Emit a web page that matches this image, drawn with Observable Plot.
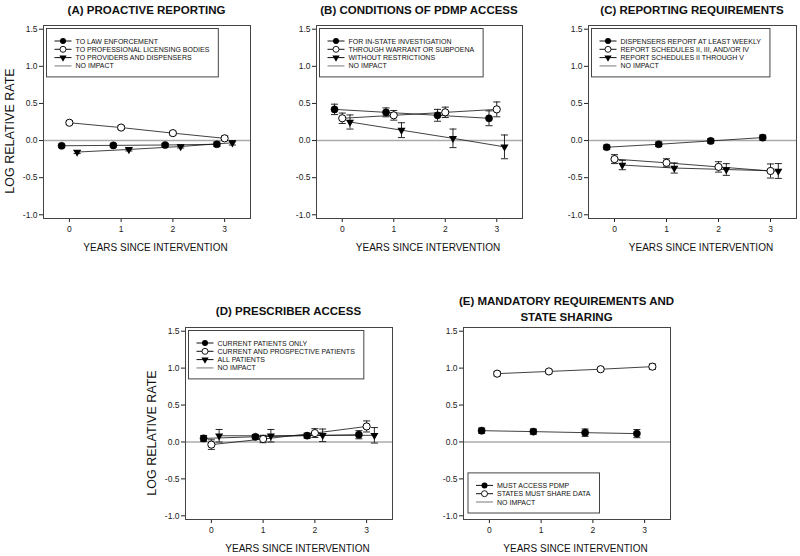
<!DOCTYPE html>
<html><head><meta charset="utf-8">
<script src="https://cdn.jsdelivr.net/npm/d3@7"></script>
<script src="https://cdn.jsdelivr.net/npm/@observablehq/plot@0.6"></script>
<style>
html,body{margin:0;padding:0;background:#fff;overflow:hidden;}
#fig{position:relative;width:800px;height:556px;overflow:hidden;font-family:"Liberation Sans",Arial,sans-serif;color:#111;background:#fff;}
.abs{position:absolute;white-space:nowrap;transform:translate(-50%,-50%);z-index:2;}
.title{font-weight:bold;font-size:11.5px;text-align:center;line-height:16px;}
.xlab{font-size:10px;}
.ylab{font-size:12.5px;transform:translate(-50%,-50%) rotate(-90deg);}
</style></head><body><div id="fig"></div>
<script>
// ---------- data ----------
const years = [0, 1, 2, 3];
const yTicks = [-1.0, -0.5, 0.0, 0.5, 1.0, 1.5];
const noImpactLabel = "NO IMPACT";

// (A) Proactive reporting
const aTitle = ["(A) PROACTIVE REPORTING"];
const aLabels = ["TO LAW ENFORCEMENT", "TO PROFESSIONAL LICENSING BODIES", "TO PROVIDERS AND DISPENSERS"];
const aLaw = [-0.07, -0.065, -0.06, -0.05];
const aLawErr = [0.02, 0.02, 0.02, 0.03];
const aProf = [0.24, 0.175, 0.10, 0.03];
const aProfErr = [0.025, 0.025, 0.025, 0.03];
const aProv = [-0.155, -0.12, -0.08, -0.03];
const aProvErr = [0.02, 0.02, 0.02, 0.03];

// (B) Conditions of PDMP access
const bTitle = ["(B) CONDITIONS OF PDMP ACCESS"];
const bLabels = ["FOR IN-STATE INVESTIGATION", "THROUGH WARRANT OR SUBPOENA", "WITHOUT RESTRICTIONS"];
const bInState = [0.42, 0.38, 0.34, 0.30];
const bInStateErr = [0.07, 0.06, 0.08, 0.10];
const bWarrant = [0.30, 0.34, 0.38, 0.42];
const bWarrantErr = [0.07, 0.065, 0.07, 0.10];
const bNoRestr = [0.25, 0.14, 0.03, -0.085];
const bNoRestrErr = [0.095, 0.10, 0.125, 0.16];

// (C) Reporting requirements
const cTitle = ["(C) REPORTING REQUIREMENTS"];
const cLabels = ["DISPENSERS REPORT AT LEAST WEEKLY", "REPORT SCHEDULES II, III, AND/OR IV", "REPORT SCHEDULES II THROUGH V"];
const cWeekly = [-0.09, -0.05, -0.005, 0.04];
const cWeeklyErr = [0.03, 0.03, 0.03, 0.035];
const cIItoIV = [-0.25, -0.30, -0.355, -0.41];
const cIItoIVErr = [0.06, 0.055, 0.07, 0.095];
const cIItoV = [-0.33, -0.37, -0.39, -0.41];
const cIItoVErr = [0.063, 0.068, 0.079, 0.10];

// (D) Prescriber access
const dTitle = ["(D) PRESCRIBER ACCESS"];
const dLabels = ["CURRENT PATIENTS ONLY", "CURRENT AND PROSPECTIVE PATIENTS", "ALL PATIENTS"];
const dCurrent = [0.048, 0.07, 0.085, 0.098];
const dCurrentErr = [0.04, 0.03, 0.035, 0.055];
const dProsp = [-0.036, 0.04, 0.12, 0.21];
const dProspErr = [0.065, 0.05, 0.06, 0.075];
const dAll = [0.084, 0.084, 0.09, 0.09];
const dAllErr = [0.085, 0.085, 0.085, 0.105];

// (E) Mandatory requirements and state sharing
const eTitle = ["(E) MANDATORY REQUIREMENTS AND", "STATE SHARING"];
const eLabels = ["MUST ACCESS PDMP", "STATES MUST SHARE DATA"];
const eMust = [0.153, 0.14, 0.126, 0.113];
const eMustErr = [0.035, 0.035, 0.05, 0.055];
const eShare = [0.925, 0.955, 0.985, 1.02];
const eShareErr = [0.03, 0.025, 0.025, 0.035];

const xLabel = "YEARS SINCE INTERVENTION";
const yLabel = "LOG RELATIVE RATE";

// ---------- symbols ----------
const capSymbol = {draw(ctx, size) { const w = Math.sqrt(size); ctx.moveTo(-w / 2, 0); ctx.lineTo(w / 2, 0); }};
const downTri = {draw(ctx, size) { const s = Math.sqrt(size); ctx.moveTo(-s * 0.6, -s * 0.35); ctx.lineTo(s * 0.6, -s * 0.35); ctx.lineTo(0, s * 0.7); ctx.closePath(); }};

// ---------- panels ----------
const panels = [
  {title: aTitle, left: 0, top: 0, W: 265, H: 245, mL: 43, mR: 15, mT: 25, mB: 27, ylab: true, legendBottom: false, titleY: 10,
   series: [
     {label: aLabels[0], kind: "filled", dodge: -0.15, v: aLaw, e: aLawErr},
     {label: aLabels[1], kind: "open", dodge: 0, v: aProf, e: aProfErr},
     {label: aLabels[2], kind: "tri", dodge: 0.15, v: aProv, e: aProvErr}]},
  {title: bTitle, left: 265, top: 0, W: 270, H: 245, mL: 51, mR: 13, mT: 25, mB: 27, ylab: false, legendBottom: false, titleY: 10,
   series: [
     {label: bLabels[0], kind: "filled", dodge: -0.15, v: bInState, e: bInStateErr},
     {label: bLabels[1], kind: "open", dodge: 0, v: bWarrant, e: bWarrantErr},
     {label: bLabels[2], kind: "tri", dodge: 0.15, v: bNoRestr, e: bNoRestrErr}]},
  {title: cTitle, left: 535, top: 0, W: 265, H: 245, mL: 53, mR: 4, mT: 25, mB: 27, ylab: false, legendBottom: false, titleY: 10,
   series: [
     {label: cLabels[0], kind: "filled", dodge: -0.15, v: cWeekly, e: cWeeklyErr},
     {label: cLabels[1], kind: "open", dodge: 0, v: cIItoIV, e: cIItoIVErr},
     {label: cLabels[2], kind: "tri", dodge: 0.15, v: cIItoV, e: cIItoVErr}]},
  {title: dTitle, left: 140, top: 300, W: 265, H: 245, mL: 45, mR: 13, mT: 27, mB: 26, ylab: true, legendBottom: false, titleY: 311,
   series: [
     {label: dLabels[0], kind: "filled", dodge: -0.15, v: dCurrent, e: dCurrentErr},
     {label: dLabels[1], kind: "open", dodge: 0, v: dProsp, e: dProspErr},
     {label: dLabels[2], kind: "tri", dodge: 0.15, v: dAll, e: dAllErr}]},
  {title: eTitle, left: 410, top: 300, W: 270, H: 245, mL: 53, mR: 10, mT: 27, mB: 26, ylab: false, legendBottom: true, titleY: 309,
   series: [
     {label: eLabels[0], kind: "filled", dodge: -0.15, v: eMust, e: eMustErr},
     {label: eLabels[1], kind: "open", dodge: 0.15, v: eShare, e: eShareErr}]}
];

const fig = document.getElementById("fig");
const INK = "#111";

function div(cls, html, x, y) {
  const d = document.createElement("div");
  d.className = "abs " + cls;
  d.innerHTML = html;
  d.style.left = x + "px";
  d.style.top = y + "px";
  fig.appendChild(d);
}

function drawLegendMarker(g, kind, x, y) {
  if (kind === "filled") g.append("circle").attr("cx", x).attr("cy", y).attr("r", 3).attr("fill", "#000");
  else if (kind === "open") g.append("circle").attr("cx", x).attr("cy", y).attr("r", 3).attr("fill", "#fff").attr("stroke", "#000").attr("stroke-width", 0.9);
  else if (kind === "tri") g.append("path").attr("transform", `translate(${x},${y})`).attr("d", "M-3.6,-2.1L3.6,-2.1L0,4.2Z").attr("fill", "#000");
}

panels.forEach(p => {
  const data = [];
  p.series.forEach((s, si) => years.forEach((yr, i) => data.push({series: si, kind: s.kind, x: yr + s.dodge, y: s.v[i], e: s.e[i]})));
  const byKind = k => data.filter(d => d.kind === k);
  const svg = Plot.plot({
    width: p.W, height: p.H,
    marginLeft: p.mL, marginRight: p.mR, marginTop: p.mT, marginBottom: p.mB,
    style: {fontFamily: '"Liberation Sans", Arial, sans-serif', fontSize: "8.5px", color: "#222", background: "transparent"},
    x: {domain: [-0.5, 3.5], ticks: years, tickFormat: d => String(d), tickSize: 4, tickPadding: 3, label: null},
    y: {domain: [-1.05, 1.55], ticks: yTicks, tickFormat: d => d.toFixed(1), tickSize: 4, tickPadding: 2, label: null},
    marks: [
      Plot.ruleY([0], {stroke: "#ababab", strokeWidth: 1.6}),
      Plot.line(data, {x: "x", y: "y", z: "series", stroke: INK, strokeWidth: 0.8}),
      Plot.ruleX(data, {x: "x", y1: d => d.y - d.e, y2: d => d.y + d.e, stroke: INK, strokeWidth: 0.9}),
      Plot.dot(data, {x: "x", y: d => d.y - d.e, symbol: capSymbol, r: 4, fill: "none", stroke: INK, strokeWidth: 0.9}),
      Plot.dot(data, {x: "x", y: d => d.y + d.e, symbol: capSymbol, r: 4, fill: "none", stroke: INK, strokeWidth: 0.9}),
      Plot.dot(byKind("filled"), {x: "x", y: "y", r: 3.6, fill: "#000", stroke: "#000", strokeWidth: 0.5}),
      Plot.dot(byKind("open"), {x: "x", y: "y", r: 3.6, fill: "#fff", stroke: "#000", strokeWidth: 1}),
      Plot.dot(byKind("tri"), {x: "x", y: "y", symbol: downTri, r: 3.8, fill: "#000", stroke: "none"}),
      Plot.frame({stroke: "#444", strokeWidth: 1})
    ]
  });
  svg.style.position = "absolute";
  svg.style.left = p.left + "px";
  svg.style.top = p.top + "px";
  fig.appendChild(svg);

  // legend (inside frame)
  const rows = [...p.series.map(s => ({label: s.label, kind: s.kind})), {label: noImpactLabel, kind: "none"}];
  const g = d3.select(svg).append("g").attr("text-anchor", "start");
  const rowGap = 8.3, padTop = 12.5, padBot = 11;
  const boxH = padTop + (rows.length - 1) * rowGap + padBot;
  const fb = p.H - p.mB;
  const bx = p.mL + (p.legendBottom ? 5 : 3.5);
  const by = p.legendBottom ? fb - 6 - boxH : p.mT + 3.5;
  const rect = g.append("rect").attr("x", bx).attr("y", by).attr("height", boxH).attr("fill", "#fff").attr("stroke", "#444").attr("stroke-width", 1);
  let maxW = 0;
  rows.forEach((r, i) => {
    const cy = by + padTop + i * rowGap;
    if (r.kind === "none") {
      g.append("line").attr("x1", bx + 8).attr("x2", bx + 25).attr("y1", cy).attr("y2", cy).attr("stroke", "#ababab").attr("stroke-width", 1.6);
    } else {
      g.append("line").attr("x1", bx + 8).attr("x2", bx + 25).attr("y1", cy).attr("y2", cy).attr("stroke", INK).attr("stroke-width", 1);
      drawLegendMarker(g, r.kind, bx + 16.5, cy);
    }
    const t = g.append("text").attr("x", bx + 29).attr("y", cy).attr("dy", "0.36em")
      .attr("text-anchor", "start").attr("font-size", "7px").attr("fill", INK).text(r.label);
    maxW = Math.max(maxW, t.node().getComputedTextLength());
  });
  rect.attr("width", 29 + maxW + 9);

  // titles and axis labels
  const fl = p.left + p.mL, fr = p.left + p.W - p.mR;
  const ft = p.top + p.mT, fbAbs = p.top + fb;
  div("title", p.title.join("<br>"), (fl + fr) / 2, p.titleY);
  div("xlab", xLabel, (fl + fr) / 2 + 9, fbAbs + 29);
  if (p.ylab) div("ylab", yLabel, fl - 33, (ft + fbAbs) / 2 + 9.5);
});
</script></body></html>
